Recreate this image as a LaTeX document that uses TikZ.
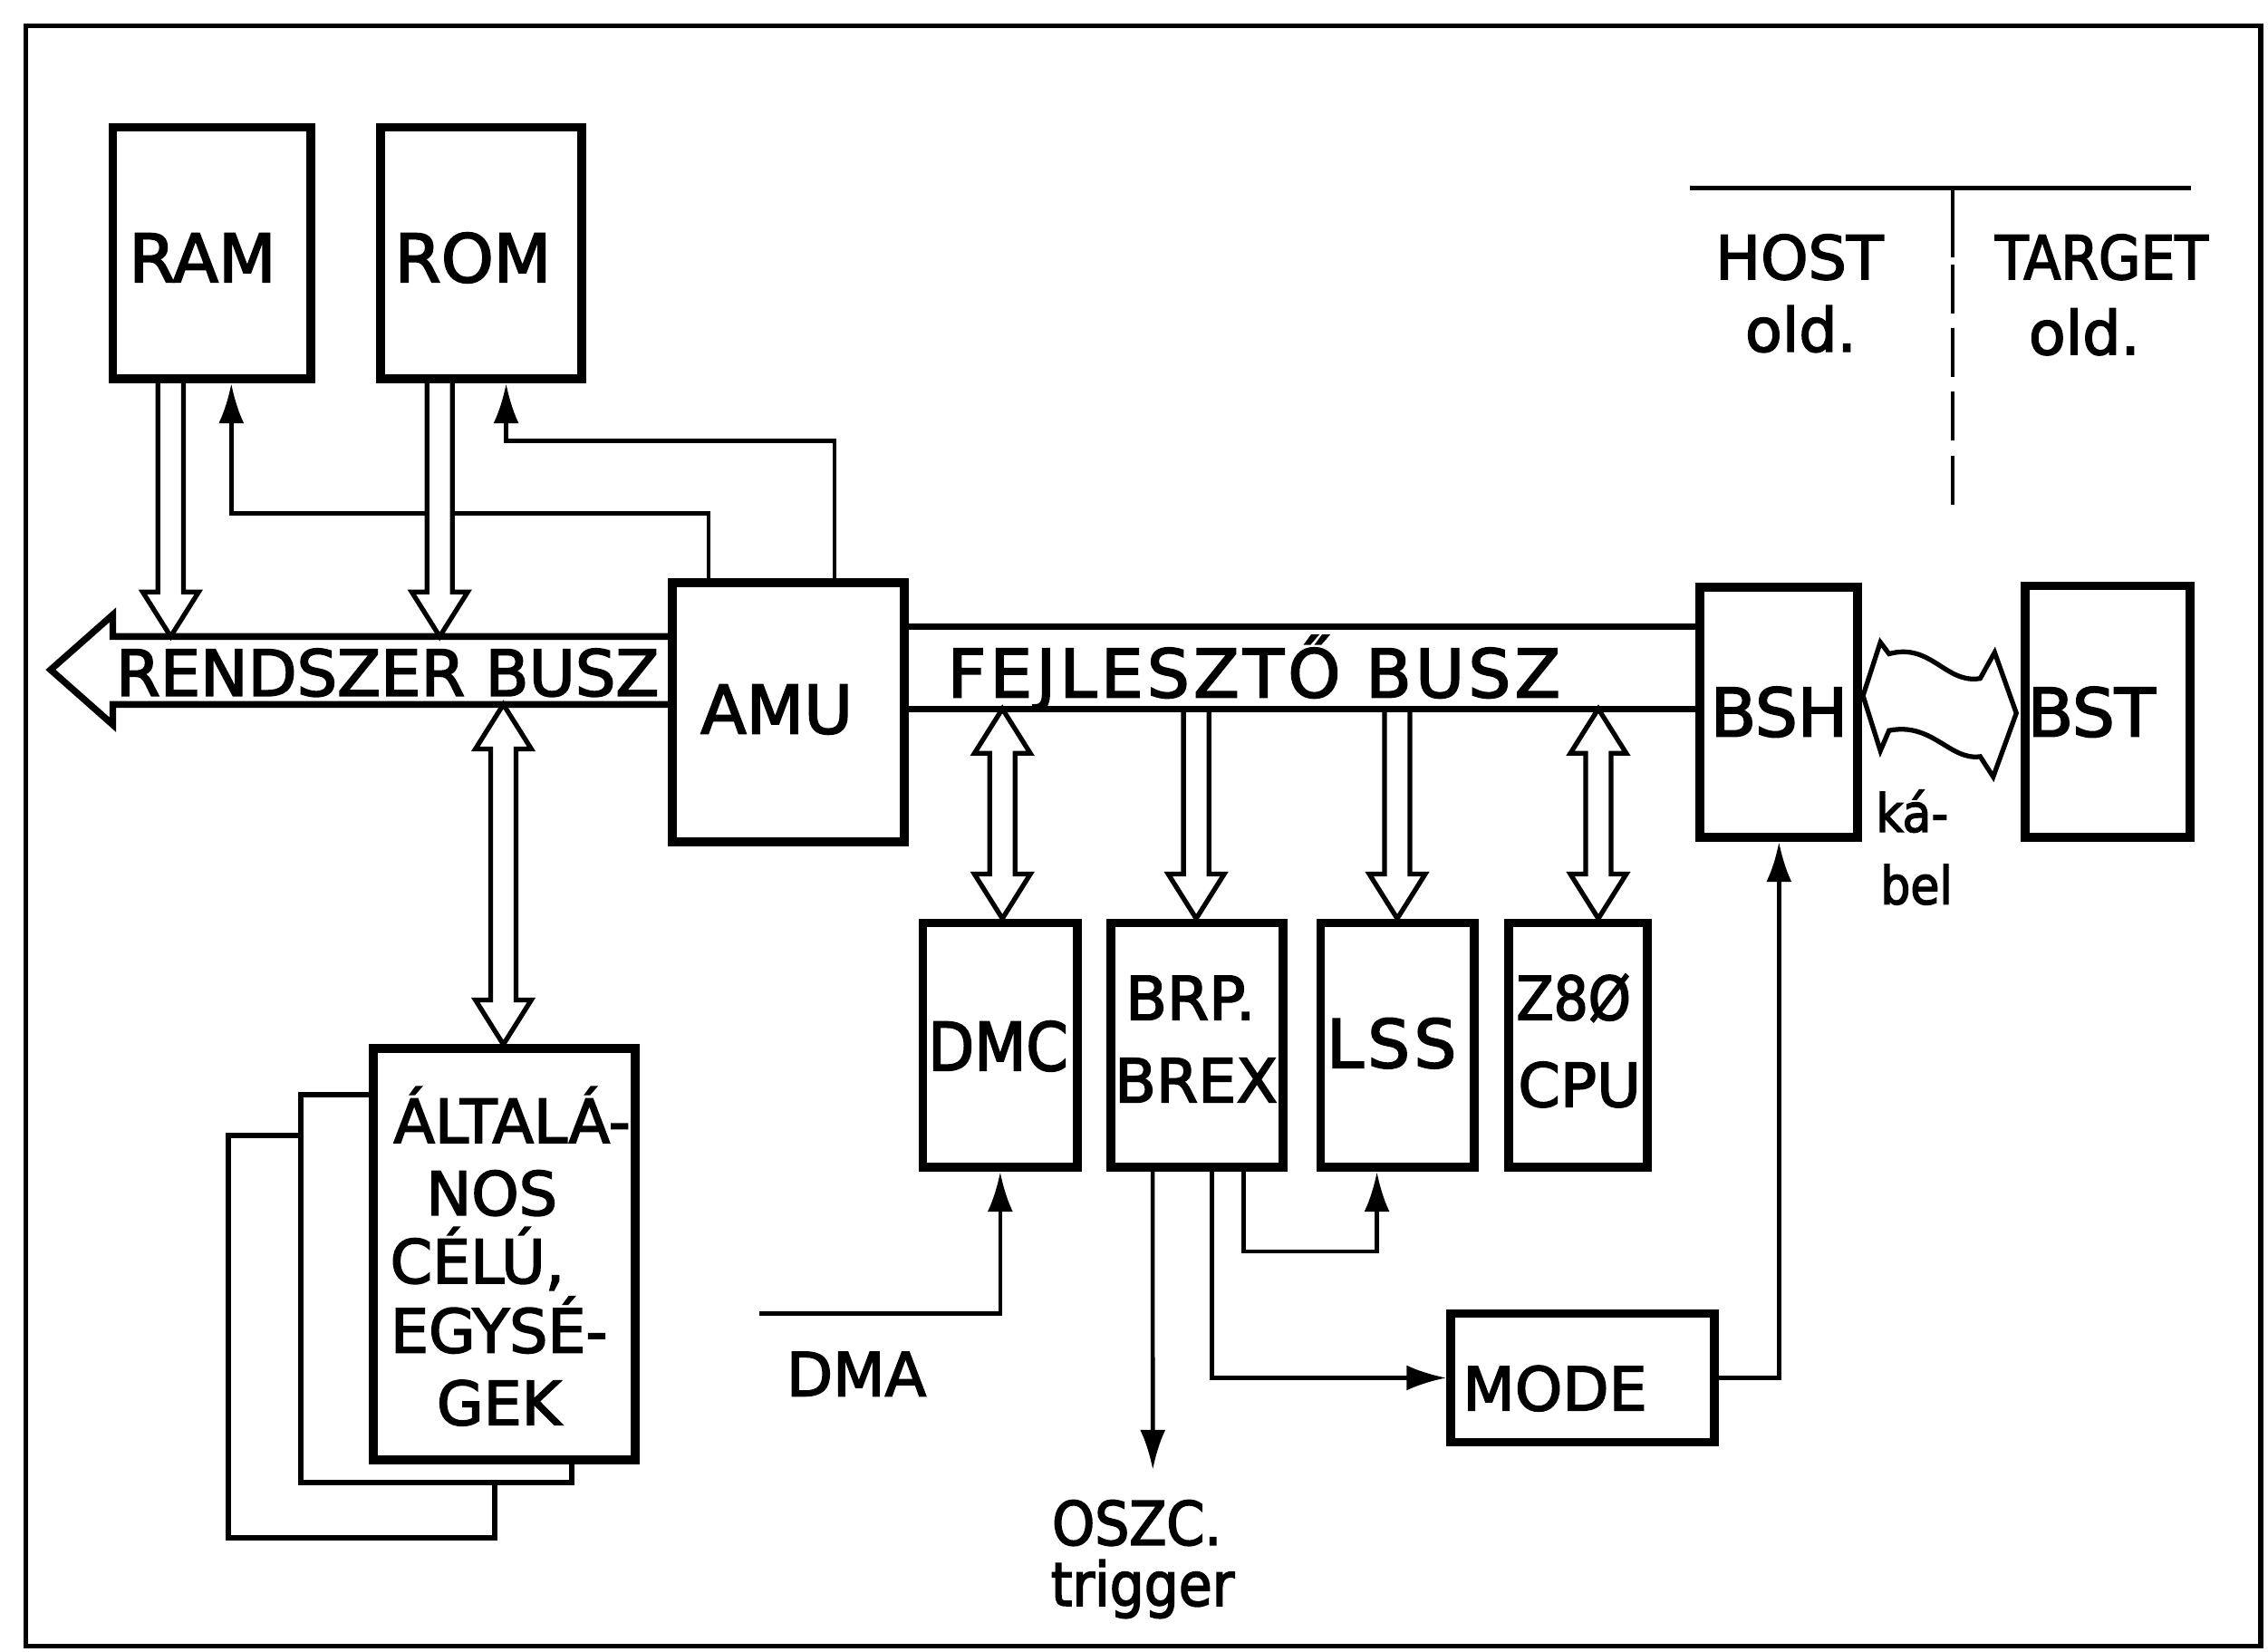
\documentclass[tikz,border=0pt]{standalone}
\usepackage{fontspec}
\setmainfont{DejaVu Sans}[FakeBold=2.5]
\newfontfamily\cond{DejaVu Sans Condensed}[FakeBold=2.5]
\usetikzlibrary{arrows.meta,fit,calc}
\newcommand\fsz[1]{\fontsize{#1}{#1}\selectfont}
\newcommand\ahw{4pt}
\newcommand\ahh{8.8pt}
\newcommand\ahl{14pt}
\newcommand\arrDown[2]{\filldraw[hollow] let \p1=#1, \p2=#2 in
  (\x1-\ahw,\y1) -- (\x1-\ahw,\y2+\ahl) -- (\x1-\ahh,\y2+\ahl) -- (\x1,\y2)
  -- (\x1+\ahh,\y2+\ahl) -- (\x1+\ahw,\y2+\ahl) -- (\x1+\ahw,\y1);}
\newcommand\arrBoth[2]{\filldraw[hollow] let \p1=#1, \p2=#2 in
  (\x1,\y1) -- (\x1-\ahh,\y1-\ahl) -- (\x1-\ahw,\y1-\ahl) -- (\x1-\ahw,\y2+\ahl)
  -- (\x1-\ahh,\y2+\ahl) -- (\x1,\y2) -- (\x1+\ahh,\y2+\ahl) -- (\x1+\ahw,\y2+\ahl)
  -- (\x1+\ahw,\y1-\ahl) -- (\x1+\ahh,\y1-\ahl) -- cycle;}
\begin{document}
\begin{tikzpicture}[x=0.16mm,y=-0.16mm,
  box/.style={draw,line width=2.8pt,fill=white,inner sep=0pt},
  backbox/.style={draw,line width=1.7pt,fill=white},
  conn/.style={line width=1.3pt,-{Latex[length=4.4mm,width=2.8mm]}},
  hollow/.style={line width=1.5pt,fill=white,line join=miter},
  bus/.style={line width=2.1pt,line join=miter},
  txt/.style={inner sep=0pt,anchor=base},
  big/.style={txt,font=\fsz{21}},
  mid/.style={txt,font=\fsz{19}},
  cbig/.style={txt,font=\cond\fsz{21}},
  cmid/.style={txt,font=\cond\fsz{19}},
  csmall/.style={txt,font=\cond\fsz{16.5}}]
\useasboundingbox (0,0) rectangle (1568,1142);
\draw[line width=1.5pt] (18,18) rectangle (1563,1138);

% ---- boxes (nodes) ----
\node[box, fit={(78,88)(215,262)}] (ram) {};
\node[box, fit={(263,88)(402,262)}] (rom) {};
\node[box, fit={(465,403)(625,582)}] (amu) {};
\node[box, fit={(1175,406)(1284,579)}] (bsh) {};
\node[box, fit={(1400,405)(1514,579)}] (bst) {};
\node[box, fit={(638,638)(745,807)}] (dmc) {};
\node[box, fit={(768,638)(887,807)}] (brp) {};
\node[box, fit={(913,638)(1019,807)}] (lss) {};
\node[box, fit={(1043,638)(1139,807)}] (z80) {};
\node[box, fit={(1003,908)(1185,997)}] (mode) {};

% ---- thin connectors ----
\draw[conn] ($(amu.north west)+(28,0)$) -- ++(0,-45) -| ($(ram.south west)+(85,0)$);
\draw[conn] ($(amu.north west)+(115,0)$) -- ++(0,-95) -| ($(rom.south west)+(90,0)$);
\coordinate (dmaL) at (525,908);
\draw[conn] (dmaL) -| (dmc.south);
\coordinate (trig) at (797,1016);
\draw[conn] ($(brp.south west)+(32,0)$) -- (trig);
\draw[conn] ($(brp.south west)+(73,0)$) |- (mode.west);
\draw[conn] ($(brp.south west)+(95,0)$) -- ++(0,55) -| ($(lss.south west)+(42,0)$);
\draw[conn] (mode.east) -| ($(bsh.south west)+(58,0)$);

% ---- hollow (bus) arrows ----
\arrDown{(118,265)}{(118,440)}
\arrDown{(304,265)}{(304,440)}
\arrBoth{(693,490)}{(693,635)}
\arrDown{(827,490)}{(827,635)}
\arrDown{(966,490)}{(966,635)}
\arrBoth{(1105,490)}{(1105,635)}

% ---- buses ----
\draw[bus] (amu.west |- 0,440) -- (78,440) -- (78,425) -- (35,463) -- (78,501) -- (78,487) -- (amu.west |- 0,487);
\draw[bus] (amu.east |- 0,433) -- (bsh.west |- 0,433);
\draw[bus] (amu.east |- 0,490) -- (bsh.west |- 0,490);

% ---- cable ----
\filldraw[hollow] (1288,481) -- (1300,444) -- (1306,452)
  .. controls (1335,444) and (1345,473) .. (1369,469) -- (1379,451) -- (1394,493)
  -- (1378,537) -- (1369,523) .. controls (1348,526) and (1336,499) .. (1306,505)
  -- (1300,519) -- cycle;

% ---- general purpose units stack ----
\node[backbox, inner sep=0pt, fit={(158,785)(342,1063)}] (back2) {};
\node[backbox, inner sep=0pt, fit={(208,757)(395,1025)}] (back1) {};
\node[box, fit={(258,725)(439,1009)}] (alt) {};
\arrBoth{(348,487)}{(348,722)}

% ---- host / target ----
\coordinate (hl) at (1168,130);
\coordinate (hr) at (1515,130);
\coordinate (vt) at (1350,130);
\draw[line width=1.4pt] (hl) -- (hr);
\draw[line width=1.4pt] (vt) -- (1350,178);
\draw[line width=1.4pt, dash pattern=on 15.4pt off 4.6pt] (1350,183) -- (1350,357);

% ---- texts ----
\node[big] (tram) at (140,195) {RAM};
\node[big] (trom) at (327,195) {ROM};
\node[big] (tamu) at (537,507) {AMU};
\node[big] (tbsh) at (1230,509) {BSH};
\node[big] (tbst) at (1446,509) {BST};
\node[txt,font=\fsz{20}] (trb) at (268,481) {RENDSZER BUSZ};
\node[big] (tfb) at (867,482) {\addfontfeatures{LetterSpace=6}FEJLESZTŐ BUSZ};
\node[cbig] (tdmc) at (690,740) {DMC};
\node[mid] (tbrp) at (823,705) {BRP.};
\node[mid] (tbrex) at (827,762) {BREX};
\node[big] (tlss) at (962,738) {\addfontfeatures{LetterSpace=6}LSS};
\node[cmid] (tz) at (1088,705) {Z8Ø};
\node[mid] (tcpu) at (1092,765) {CPU};
\node[mid] (tmode) at (1075,975) {MODE};
\node[mid] (tdma) at (592,965) {DMA};
\node[txt,font=\cond\fsz{19}] (toszc) at (786,1068) {OSZC.};
\node[txt,font=\cond\fsz{19}] (ttrig) at (790,1110) {trigger};
\node[mid] (thost) at (1244,193) {HOST};
\node[mid] (thold) at (1245,243) {old.};
\node[cmid] (ttarg) at (1453,193) {TARGET};
\node[mid] (ttold) at (1441,245) {old.};
\node[csmall] (tka) at (1322,575) {ká-};
\node[csmall] (tbel) at (1325,625) {bel};
\node[mid] (a1) at (354,790) {ÁLTALÁ-};
\node[mid] (a2) at (340,840) {NOS};
\node[mid] (a3) at (330,887) {CÉLÚ,};
\node[mid] (a4) at (345,935) {EGYSÉ-};
\node[mid] (a5) at (345,985) {GEK};
\end{tikzpicture}
\end{document}
